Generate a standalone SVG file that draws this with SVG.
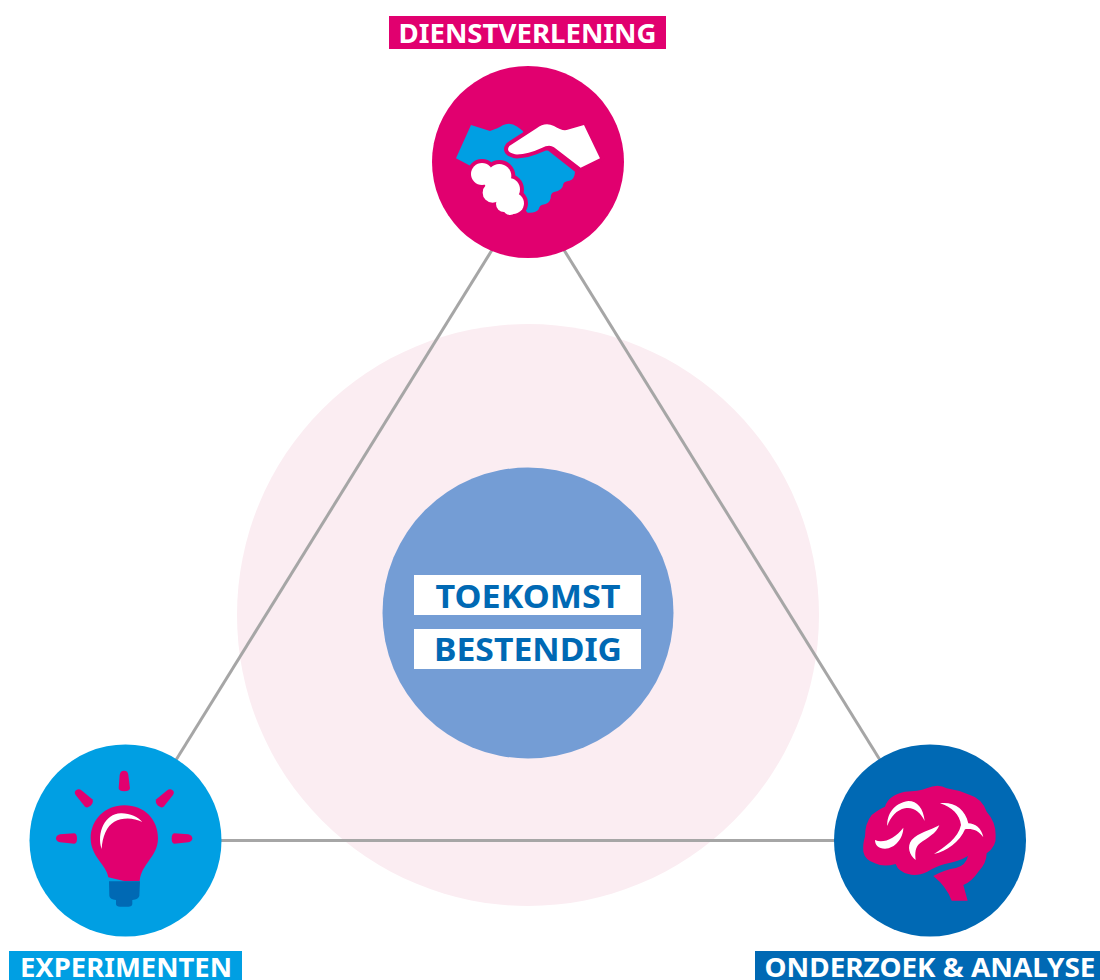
<svg xmlns="http://www.w3.org/2000/svg" width="1100" height="980" viewBox="0 0 1100 980">
<style>
.lbl{font-family:"Noto Sans","Open Sans","Liberation Sans",sans-serif;font-weight:700;font-size:26px;fill:#fff;text-anchor:middle}
.mid{font-family:"Noto Sans","Open Sans","Liberation Sans",sans-serif;font-weight:700;font-size:33px;fill:#0069B4;text-anchor:middle}
.pink{fill:#E1006F}.cyan{fill:#009FE3}.navy{fill:#0069B4}.white{fill:#fff}
.edge{stroke:#E1006F;stroke-width:24;stroke-linejoin:round}
.conn{stroke:#A6A6A6;stroke-width:3;fill:none}
</style>
<defs>
<path id="grip" d="M238 258L320 205Q345 185 372 198Q395 213 410 210L462 195L510 295L452 323L372 262Q358 252 335 264Q290 285 255 283Q225 276 238 258Z"/>
<g id="fist">
<circle cx="156" cy="342" r="33"/>
<circle cx="208" cy="348" r="36"/>
<circle cx="236" cy="388" r="34"/>
<circle cx="250" cy="430" r="32"/>
<circle cx="188" cy="398" r="30"/>
<circle cx="222" cy="432" r="24"/>
<circle cx="240" cy="444" r="21"/>
<path d="M150 350L205 340L250 400L255 440L225 440L180 400Z"/>
</g>
</defs>
<rect width="1100" height="980" fill="#fff"/>
<circle id="halo" cx="528" cy="615" r="291" fill="#FBEDF2"/>
<g id="connectors">
<path class="conn" d="M492 250L176 760"/>
<path class="conn" d="M564 250L880 760"/>
<path class="conn" d="M221 840.500H835"/>
</g>
<g id="center">
<circle cx="528" cy="613" r="145.500" fill="#749DD5"/>
<rect class="white" x="414" y="575" width="227" height="40"/>
<rect class="white" x="414" y="629" width="227" height="40"/>
<text class="mid" x="528" y="608" textLength="185" lengthAdjust="spacingAndGlyphs">TOEKOMST</text>
<text class="mid" x="528" y="661" textLength="188" lengthAdjust="spacingAndGlyphs">BESTENDIG</text>
</g>
<g id="dienstverlening">
<rect class="pink" x="389" y="16" width="277" height="33"/>
<text class="lbl" x="527.500" y="43" textLength="258" lengthAdjust="spacingAndGlyphs">DIENSTVERLENING</text>
<circle class="pink" cx="528" cy="162" r="96"/>
<g transform="translate(430 60) scale(.3333)">
<path class="cyan" d="M123 195L180 213Q205 205 218 196Q240 185 262 200L278 212L300 260L355 272L435 335Q434 358 418 362Q402 364 400 372Q398 392 372 396Q362 398 362 415Q358 432 338 434Q328 436 326 448Q318 460 293 458L240 400L122 318L78 295Z"/>
<use href="#grip" class="edge"/>
<use href="#grip" class="white"/>
<use href="#fist" class="edge"/>
<use href="#fist" class="white"/>
</g>
</g>
<g id="experimenten">
<rect class="cyan" x="9" y="951" width="233" height="29"/>
<text class="lbl" x="126" y="977" textLength="212" lengthAdjust="spacingAndGlyphs">EXPERIMENTEN</text>
<circle class="cyan" cx="125.500" cy="840.500" r="96"/>
<g transform="translate(25 740) scale(.3333)">
<path class="pink" d="M284 105Q286 92 297 92Q309 92 310 105L315 145Q314 154 298 154Q282 154 281 145Z"/>
<path class="pink" d="M152 165Q146 155 154 150Q162 145 171 152L202 178Q207 186 198 196Q188 206 180 200Z"/>
<path class="pink" d="M444 165Q450 155 442 150Q434 145 425 152L394 178Q389 186 398 196Q408 206 416 200Z"/>
<path class="pink" d="M105 283L148 280Q156 281 156 296Q156 310 148 311L105 307Q93 304 93 295Q93 286 105 283Z"/>
<path class="pink" d="M490 283L448 280Q440 281 440 296Q440 310 448 311L490 307Q502 304 502 295Q502 286 490 283Z"/>
<path class="pink" d="M298 196C360 196 399 240 399 295C399 350 350 370 344 423L300 424L250 412C245 375 197 350 197 295C197 240 240 196 298 196Z"/>
<path class="white" d="M230 327C214 280 240 218 290 220C315 220 340 232 352 246C325 232 292 232 268 245C245 258 232 290 230 327Z"/>
<path class="navy" d="M252 424L300 424L345 424L343 468Q340 478 322 480L322 492Q321 500 310 500L285 500Q274 500 273 492L273 480Q255 478 253 468Z"/>
</g>
</g>
<g id="onderzoek">
<rect class="navy" x="755" y="951" width="345" height="29"/>
<text class="lbl" x="930" y="977" textLength="331" lengthAdjust="spacingAndGlyphs">ONDERZOEK &amp; ANALYSE</text>
<circle class="navy" cx="930" cy="840.500" r="96"/>
<g transform="translate(830 740) scale(.3333)">
<path class="pink" d="M100 335Q98 310 105 290Q105 250 125 225Q150 205 165 200Q175 165 225 155Q265 155 290 145Q325 130 350 145Q385 150 420 165Q455 175 470 215Q497 245 497 285Q500 320 470 340Q470 370 445 395Q425 425 400 435L413 482H365Q350 440 310 408Q345 388 378 384Q408 376 414 348Q385 365 345 372Q320 378 292 395Q260 410 235 402Q205 395 197 372Q160 382 135 370Q105 360 100 335Z"/>
<path class="white" d="M172 258C170 225 190 190 235 183C262 183 280 205 284 243C270 215 250 200 225 205C200 210 182 230 172 258Z"/>
<path class="white" d="M135 300C160 312 195 295 220 263C220 295 195 325 165 326C145 326 135 315 135 300Z"/>
<path class="white" d="M328 256C320 280 290 295 270 310C255 322 255 340 257 360C238 345 230 320 245 300C265 278 300 272 328 256Z"/>
<path class="white" d="M330 190C370 185 405 205 415 250C435 250 455 265 460 292C445 270 425 265 405 268C390 305 350 335 312 342C345 320 385 295 393 255C390 225 365 200 330 190Z"/>
</g>
</g>
</svg>
